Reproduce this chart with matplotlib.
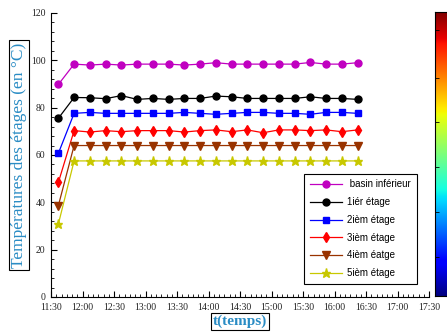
import numpy as np
import matplotlib
matplotlib.use("Agg")
import matplotlib.pyplot as plt
from matplotlib.ticker import MultipleLocator, FixedLocator, FixedFormatter

# Measurement times (every 15 minutes)
times = ["11:37", "11:52", "12:07", "12:22", "12:37", "12:52", "13:07", "13:22",
         "13:37", "13:52", "14:07", "14:22", "14:37", "14:52", "15:07", "15:22",
         "15:37", "15:52", "16:07", "16:22"]

basin = [89.8, 98.4, 98.0, 98.4, 98.0, 98.4, 98.4, 98.4, 98.0, 98.4,
         99.0, 98.4, 98.4, 98.4, 98.4, 98.4, 99.1, 98.4, 98.4, 99.0]
etage1 = [75.5, 84.3, 84.2, 83.8, 85.1, 83.5, 83.9, 83.5, 83.9, 83.9,
          84.9, 84.6, 83.9, 83.9, 83.9, 83.9, 84.6, 83.9, 83.9, 83.5]
etage2 = [60.7, 77.6, 78.0, 77.6, 77.6, 77.6, 77.6, 77.6, 78.0, 77.6,
          77.2, 77.6, 78.0, 78.0, 77.6, 77.6, 77.2, 78.0, 78.0, 77.6]
etage3 = [48.4, 70.3, 69.7, 70.3, 69.85, 70.3, 70.3, 70.3, 69.7, 70.3,
          70.6, 69.85, 70.6, 69.4, 70.6, 70.6, 70.3, 70.6, 69.85, 70.6]
etage4 = [38.6, 64.0, 64.0, 64.0, 64.0, 64.0, 64.0, 64.0, 64.0, 64.0,
          64.0, 64.0, 64.0, 64.0, 64.0, 64.0, 64.0, 64.0, 64.0, 64.0]
etage5 = [30.8, 57.5, 57.5, 57.5, 57.5, 57.5, 57.5, 57.5, 57.5, 57.5,
          57.5, 57.5, 57.5, 57.5, 57.5, 57.5, 57.5, 57.5, 57.5, 57.5]

series_labels = [" basin inférieur", "1iér étage", "2ièm étage",
                 "3ièm étage", "4ièm éatge", "5ièm étage"]
x_tick_labels = ["11:30", "12:00", "12:30", "13:00", "13:30", "14:00", "14:30",
                 "15:00", "15:30", "16:00", "16:30", "17:00", "17:30"]
y_ticks = [0, 20, 40, 60, 80, 100, 120]


def to_minutes(s):
    h, m = s.split(":")
    return int(h) * 60 + int(m)


x = np.array([to_minutes(t) for t in times])
xt = [to_minutes(t) for t in x_tick_labels]

fig = plt.figure(figsize=(4.47, 3.32), dpi=100)
ax = fig.add_axes([51 / 447, 1 - 297 / 332, (429 - 51) / 447, (297 - 13) / 332])

styles = [
    dict(color="#c000c0", marker="o", ms=5.0),
    dict(color="#000000", marker="o", ms=5.0),
    dict(color="#0000ff", marker="s", ms=5.0),
    dict(color="#ff0000", marker="d", ms=5.5),
    dict(color="#993300", marker="v", ms=6.0),
    dict(color="#c8c800", marker="*", ms=6.5),
]
for vals, lab, st in zip([basin, etage1, etage2, etage3, etage4, etage5],
                         series_labels, styles):
    ax.plot(x, vals, lw=0.9, label=lab, color=st["color"], marker=st["marker"],
            ms=st["ms"], mec=st["color"], mfc=st["color"])

ax.set_xlim(xt[0], xt[-1])
ax.set_ylim(0, 120)
for side in ("top", "right"):
    ax.spines[side].set_visible(False)
for side in ("left", "bottom"):
    ax.spines[side].set_linewidth(0.8)

serif = ["Liberation Serif", "DejaVu Serif"]
ax.xaxis.set_major_locator(FixedLocator(xt))
ax.xaxis.set_major_formatter(FixedFormatter(x_tick_labels))
ax.xaxis.set_minor_locator(MultipleLocator(5))
ax.yaxis.set_major_locator(FixedLocator(y_ticks))
ax.yaxis.set_minor_locator(MultipleLocator(4))
ax.tick_params(which="major", direction="in", length=4, width=0.8, pad=4)
ax.tick_params(which="minor", direction="in", length=2.5, width=0.6)
for lbl in ax.get_xticklabels() + ax.get_yticklabels():
    lbl.set_family(serif)
    lbl.set_fontsize(7)
    lbl.set_color("#222222")

blue = "#2a8cc4"
ax.set_ylabel("Températures des étages (en °C)", family=serif, fontsize=12.5,
              color=blue, labelpad=3,
              bbox=dict(boxstyle="square,pad=0.12", fc="white", ec="black", lw=0.8))
ax.set_xlabel("t(temps)", family=serif, fontsize=11, fontweight="bold",
              color=blue, labelpad=2,
              bbox=dict(boxstyle="square,pad=0.12", fc="white", ec="black", lw=0.8))

leg = ax.legend(loc="lower right", bbox_to_anchor=(0.98, 0.03), frameon=True,
                fancybox=False, edgecolor="black", framealpha=1,
                prop=dict(family=["Liberation Sans", "DejaVu Sans"], size=7),
                handlelength=3.3, labelspacing=0.8, borderpad=0.55,
                handletextpad=0.6)
leg.get_frame().set_linewidth(0.8)

# Jet colour scale on the right edge
cax = fig.add_axes([435 / 447, 1 - 296 / 332, 16 / 447, (296 - 12) / 332])
grad = np.linspace(0, 1, 256).reshape(-1, 1)
cax.imshow(grad, aspect="auto", cmap="jet", origin="lower", extent=[0, 1, 0, 1])
cax.set_xticks([])
cax.set_yticks([0.137, 0.296, 0.455, 0.613, 0.768, 0.937])
cax.set_yticklabels([])
cax.tick_params(direction="in", length=3, width=0.6, left=True, right=False)
for sp in cax.spines.values():
    sp.set_linewidth(0.8)

fig.savefig("out.png", dpi=100)
